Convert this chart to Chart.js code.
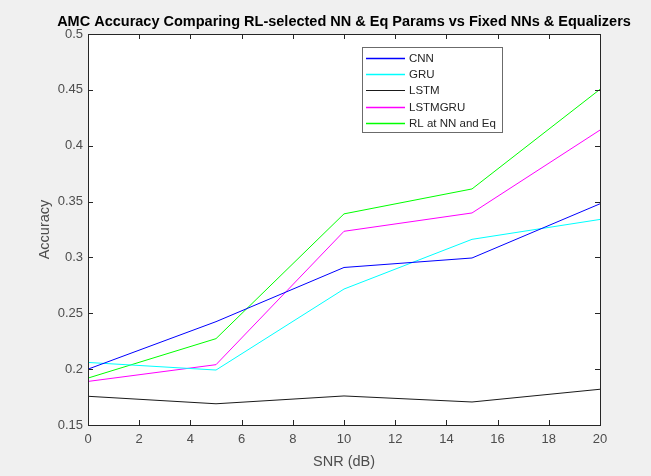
<!DOCTYPE html>
<html lang="en">
  <head>
    <meta charset="utf-8" />
    <title>AMC Accuracy</title>
    <style>
      * { margin: 0; padding: 0; }
      body { background: #f0f0f0; }
      canvas { display: block; }
    </style>
  </head>
  <body>
    <canvas id="myChart" width="651" height="476"></canvas>

    <script src="https://cdn.jsdelivr.net/npm/chart.js"></script>

    <script>
      // values
      const snr = [0, 5, 10, 15, 20];
      const seriesNames = ["CNN", "GRU", "LSTM", "LSTMGRU", "RL at NN and Eq"];
      const cnn = [0.2, 0.2425, 0.291, 0.2995, 0.348];
      const gru = [0.206, 0.1992, 0.2717, 0.3162, 0.334];
      const lstm = [0.1757, 0.169, 0.176, 0.1706, 0.182];
      const lstmgru = [0.189, 0.204, 0.3234, 0.3398, 0.414];
      const rl = [0.192, 0.2273, 0.339, 0.3613, 0.4505];
      const lineColors = ["#0000ff", "#00ffff", "#1a1a1a", "#ff00ff", "#00ff00"];

      const axisColor = "#262626";
      const textColor = "#4d4d4d";
      const fontFamily = "'Liberation Sans', Arial, sans-serif";

      const datasets = [cnn, gru, lstm, lstmgru, rl].map((vals, i) => ({
        label: seriesNames[i],
        data: snr.map((x, j) => ({ x: x, y: vals[j] })),
        borderColor: lineColors[i],
        backgroundColor: lineColors[i],
        borderWidth: 1,
        pointRadius: 0,
        tension: 0,
      }));

      // MATLAB-ish frame: white axes, box, inward ticks, title, axis labels, legend
      const matlabFrame = {
        id: "matlabFrame",
        beforeDraw(chart) {
          const { ctx, chartArea: { top, bottom, left, right } } = chart;
          ctx.save();
          ctx.fillStyle = "#fff";
          ctx.fillRect(left, top, right - left, bottom - top);
          ctx.restore();
        },
        afterDatasetsDraw(chart) {
          const { ctx, chartArea: { top, bottom, left, right }, scales: { x, y } } = chart;
          ctx.save();
          ctx.strokeStyle = axisColor;
          ctx.lineWidth = 1;
          ctx.strokeRect(left + 0.5, top + 0.5, right - left, bottom - top);

          const tl = 5;
          ctx.beginPath();
          x.ticks.forEach((t) => {
            const px = Math.round(x.getPixelForValue(t.value)) + 0.5;
            ctx.moveTo(px, bottom);
            ctx.lineTo(px, bottom - tl);
            ctx.moveTo(px, top);
            ctx.lineTo(px, top + tl);
          });
          y.ticks.forEach((t) => {
            const py = Math.round(y.getPixelForValue(t.value)) + 0.5;
            ctx.moveTo(left, py);
            ctx.lineTo(left + tl, py);
            ctx.moveTo(right, py);
            ctx.lineTo(right - tl, py);
          });
          ctx.stroke();

          // title
          ctx.fillStyle = "#000";
          ctx.font = "bold 14.5px " + fontFamily;
          ctx.textAlign = "center";
          ctx.textBaseline = "middle";
          ctx.fillText(
            "AMC Accuracy Comparing RL-selected NN & Eq Params vs Fixed NNs & Equalizers",
            (left + right) / 2, 22
          );

          // axis labels
          ctx.fillStyle = textColor;
          ctx.font = "14.5px " + fontFamily;
          ctx.fillText("SNR (dB)", (left + right) / 2, 462);
          ctx.save();
          ctx.translate(45, (top + bottom) / 2);
          ctx.rotate(-Math.PI / 2);
          ctx.fillText("Accuracy", 0, 0);
          ctx.restore();

          // legend box
          const lx = 362, ly = 47, lw = 140, lh = 85;
          ctx.fillStyle = "#fff";
          ctx.fillRect(lx, ly, lw, lh);
          ctx.strokeStyle = "#6b6b6b";
          ctx.strokeRect(lx + 0.5, ly + 0.5, lw, lh);
          ctx.font = "11.5px " + fontFamily;
          ctx.textAlign = "left";
          chart.data.datasets.forEach((ds, i) => {
            const ry = Math.round(ly + 10.5 + i * 16.4) + 0.5;
            ctx.strokeStyle = ds.borderColor;
            ctx.lineWidth = i === 2 ? 1 : 1.5;
            ctx.beginPath();
            ctx.moveTo(lx + 4, ry);
            ctx.lineTo(lx + 43, ry);
            ctx.stroke();
            ctx.fillStyle = "#262626";
            ctx.fillText(ds.label, lx + 47, ry);
          });
          ctx.restore();
        },
      };

      const config = {
        type: "line",
        data: { datasets: datasets },
        options: {
          responsive: false,
          animation: false,
          layout: { padding: { left: 0, right: 51, top: 34, bottom: 0 } },
          plugins: {
            legend: { display: false },
            title: { display: false },
            tooltip: { enabled: false },
          },
          scales: {
            x: {
              type: "linear",
              min: 0,
              max: 20,
              grid: { display: false, drawTicks: false },
              border: { display: false },
              ticks: {
                stepSize: 2,
                padding: 7,
                color: textColor,
                font: { family: fontFamily, size: 13 },
                maxRotation: 0,
                autoSkip: false,
              },
              afterFit(scale) { scale.height = 51; },
            },
            y: {
              min: 0.15,
              max: 0.5,
              grid: { display: false, drawTicks: false },
              border: { display: false },
              ticks: {
                stepSize: 0.05,
                padding: 5,
                color: textColor,
                font: { family: fontFamily, size: 13 },
                callback: (v) => String(Math.round(v * 100) / 100),
              },
              afterFit(scale) { scale.width = 88; },
            },
          },
        },
        plugins: [matlabFrame],
      };

      const myChart = new Chart(document.getElementById("myChart"), config);
    </script>
  </body>
</html>
